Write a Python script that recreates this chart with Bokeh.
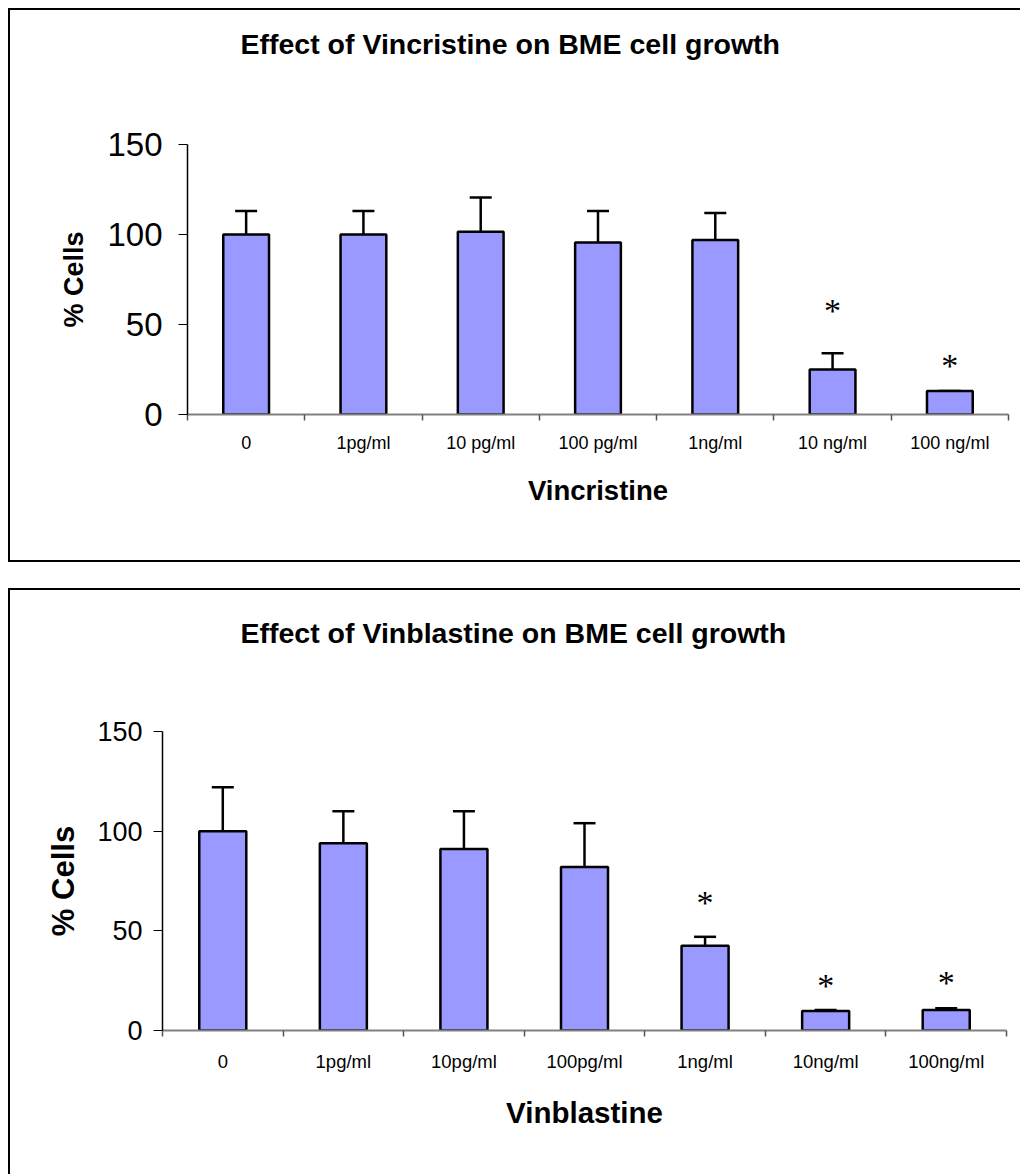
from bokeh.plotting import figure
from bokeh.models import Range1d, FixedTicker, ColumnDataSource, Whisker, TeeHead, Title
from bokeh.core.properties import value
from bokeh.embed import file_html
from bokeh.resources import INLINE

# ---------------- data ----------------
title1 = "Effect of Vincristine on BME cell growth"
xlabel1 = "Vincristine"
labels1 = ["0", "1pg/ml", "10 pg/ml", "100 pg/ml", "1ng/ml", "10 ng/ml", "100 ng/ml"]
means1 = [100, 100, 101.5, 95.5, 97, 25, 13]
errs1 = [13, 13, 19, 17.5, 15, 9, 0]
star_idx1 = [5, 6]
star_y1 = [58, 27]

title2 = "Effect of Vinblastine on BME cell growth"
xlabel2 = "Vinblastine"
labels2 = ["0", "1pg/ml", "10pg/ml", "100pg/ml", "1ng/ml", "10ng/ml", "100ng/ml"]
means2 = [100, 94, 91, 82, 42.5, 9.8, 10.3]
errs2 = [22, 16, 19, 22, 4.5, 0.5, 0.8]
star_idx2 = [4, 5, 6]
star_y2 = [64, 22.5, 24]

yticks = [0, 50, 100, 150]
ylabel = "% Cells"

FONT = "Liberation Sans"
BAR_FILL = "#9999FF"


def make_panel(title, xlabel, labels, means, errs, star_idx, star_y, styles, margin,
               width, height, left, right, top, bottom,
               title_size, ytick_size, ylabel_size, xtick_size, xlabel_size,
               title_offset, spacer_standoff, ytick_standoff, ylabel_standoff,
               xtick_standoff, xlabel_standoff):
    n = len(labels)
    centers = [i + 0.5 for i in range(n)]
    p = figure(width=width, height=height, output_backend="svg", toolbar_location=None,
               x_range=Range1d(0, n), y_range=Range1d(0, 150), title=None,
               min_border_left=left, min_border_right=right,
               min_border_top=top, min_border_bottom=bottom)
    p.styles = styles
    p.margin = margin
    p.outline_line_color = None
    p.grid.visible = False
    p.background_fill_color = "white"
    p.border_fill_color = "white"

    # spacer (nearest to the frame) then the real title
    p.add_layout(Title(text=" ", text_font_size="1px", standoff=spacer_standoff), "above")
    p.add_layout(Title(text=title, align="left", offset=title_offset, standoff=10,
                       text_font=FONT, text_font_style="bold", text_font_size=title_size,
                       text_color="black"), "above")

    src = ColumnDataSource(dict(x=centers, top=means, upper=[m + e for m, e in zip(means, errs)]))
    p.vbar(x="x", top="top", bottom=0, width=0.39, source=src,
           fill_color=BAR_FILL, line_color="black", line_width=2.5)
    w = Whisker(base="x", upper="upper", lower="top", source=src, dimension="height",
                line_color="black", line_width=2.5,
                upper_head=TeeHead(size=22, line_color="black", line_width=2.5),
                lower_head=None)
    p.add_layout(w)

    sx = [centers[i] for i in star_idx]
    p.text(x=sx, y=star_y, text=["*"] * len(sx), text_align="center", text_baseline="middle",
           text_font=value("Liberation Serif"), text_font_size="34px", text_color="black")

    # x axis
    xa = p.xaxis[0]
    xa.ticker = FixedTicker(ticks=centers, minor_ticks=list(range(n + 1)))
    xa.major_label_overrides = {c: l for c, l in zip(centers, labels)}
    xa.major_tick_out = 0
    xa.major_tick_in = 0
    xa.minor_tick_out = 6
    xa.minor_tick_in = 0
    xa.minor_tick_line_color = "#555555"
    xa.minor_tick_line_width = 1.5
    xa.axis_line_color = "#808080"
    xa.axis_line_width = 2
    xa.major_label_text_font = FONT
    xa.major_label_text_font_size = xtick_size
    xa.major_label_text_color = "black"
    xa.major_label_standoff = xtick_standoff
    xa.axis_label = xlabel
    xa.axis_label_text_font = FONT
    xa.axis_label_text_font_style = "bold"
    xa.axis_label_text_font_size = xlabel_size
    xa.axis_label_text_color = "black"
    xa.axis_label_standoff = xlabel_standoff

    # y axis
    ya = p.yaxis[0]
    ya.ticker = FixedTicker(ticks=yticks, minor_ticks=[])
    ya.major_tick_out = 9
    ya.major_tick_in = 0
    ya.major_tick_line_color = "black"
    ya.axis_line_color = "black"
    ya.axis_line_width = 1.5
    ya.major_label_text_font = FONT
    ya.major_label_text_font_size = ytick_size
    ya.major_label_text_color = "black"
    ya.major_label_standoff = ytick_standoff
    ya.axis_label = ylabel
    ya.axis_label_text_font = FONT
    ya.axis_label_text_font_style = "bold"
    ya.axis_label_text_font_size = ylabel_size
    ya.axis_label_text_color = "black"
    ya.axis_label_standoff = ylabel_standoff
    return p


p1 = make_panel(title1, xlabel1, labels1, means1, errs1, star_idx1, star_y1,
                styles={"border-left": "2px solid black", "border-top": "2px solid black",
                        "border-bottom": "2px solid black"},
                margin=(8, 0, 0, 8),
                width=1012, height=554, left=177, right=14, top=134, bottom=150,
                title_size="28.5px", ytick_size="33px", ylabel_size="27px",
                xtick_size="18px", xlabel_size="27.5px",
                title_offset=53, spacer_standoff=77, ytick_standoff=16, ylabel_standoff=15,
                xtick_standoff=12, xlabel_standoff=19)
p2 = make_panel(title2, xlabel2, labels2, means2, errs2, star_idx2, star_y2,
                styles={"border-left": "2px solid black", "border-top": "2px solid black"},
                margin=(26, 0, 0, 8),
                width=1012, height=586, left=152, right=16, top=141, bottom=146,
                title_size="28.5px", ytick_size="27px", ylabel_size="31px",
                xtick_size="18.5px", xlabel_size="29.5px",
                title_offset=78, spacer_standoff=75, ytick_standoff=11, ylabel_standoff=13,
                xtick_standoff=14, xlabel_standoff=21)

open("out.html", "w").write(file_html([p1, p2], INLINE))
